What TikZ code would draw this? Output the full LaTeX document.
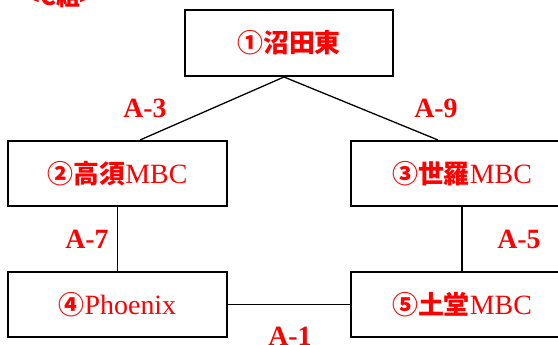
\documentclass[tikz,border=0pt]{standalone}
\usepackage{fontspec}
\setmainfont{Liberation Serif}
\newfontfamily\cjk{Noto Sans CJK JP}
\definecolor{lblred}{RGB}{255,0,0}
\newcommand{\jp}[1]{{\fontsize{26}{30}\selectfont\cjk\bfseries #1}}
\tikzset{
  box/.style={draw=black, line width=2pt, minimum width=219bp, minimum height=65bp,
    inner sep=0pt, text=lblred, font=\fontsize{28}{30}\selectfont},
  link/.style={draw=black, line width=1.3pt},
  lbl/.style={text=lblred, inner sep=0pt, font=\fontsize{28}{30}\selectfont\bfseries}
}
\begin{document}
\begin{tikzpicture}[x=1bp,y=-1bp]
\useasboundingbox (0,0) rectangle (558,344);
\node[box, minimum width=208bp, minimum height=66bp] (b1) at (289,43) {\jp{①沼田東}};
\node[box] (b2) at (117.5,173.5) {\jp{②高須}MBC};
\node[box, minimum width=222bp] (b3) at (462,173.5) {\jp{③世羅}MBC};
\node[box] (b4) at (117.5,304.5) {\jp{④}Phoenix};
\node[box, minimum width=222bp] (b5) at (462,304.5) {\jp{⑤土堂}MBC};
\draw[link] ([xshift=22.5bp]b2.north) -- ([xshift=-5bp]b1.south) -- ([xshift=-24bp]b3.north);
\draw[link] (b2.south) -- (b4.north);
\draw[link] (b3.south) -- (b5.north);
\draw[link] (b4.east) -- (b5.west);
\node[lbl] (l3) at (145,108) {A-3};
\node[lbl] (l9) at (436,108) {A-9};
\node[lbl] (l7) at (87,239) {A-7};
\node[lbl] (l5) at (519,239) {A-5};
\node[lbl] (l1) at (290,336) {A-1};
\node[text=lblred, inner sep=0pt, font=\fontsize{24}{28}\selectfont\cjk\bfseries] (grp) at (60,-4) {<C組>};
\end{tikzpicture}
\end{document}
